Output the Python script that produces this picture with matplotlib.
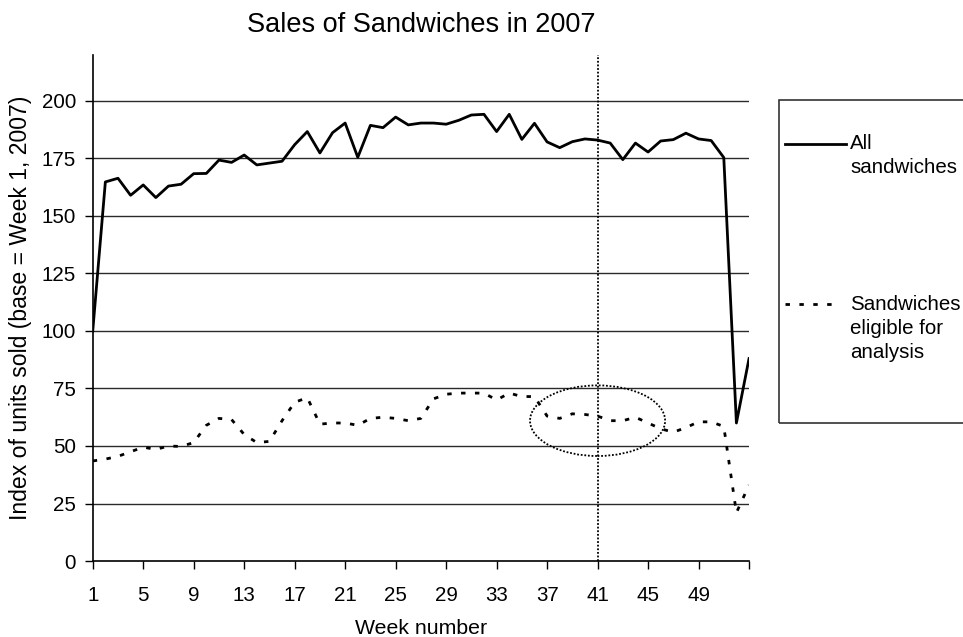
import matplotlib
matplotlib.use("Agg")
import matplotlib.pyplot as plt
from matplotlib.patches import Ellipse, Rectangle
from matplotlib.lines import Line2D

plt.rcParams['font.family'] = ['Liberation Sans', 'DejaVu Sans']

weeks = list(range(1, 54))
all_sandwiches = [
    100, 164.8, 166.4, 159, 163.5, 158, 163, 163.8, 168.4, 168.5,
    174.3, 173.3, 176.5, 172.2, 173, 173.8, 181, 186.7, 177.4, 186.2,
    190.4, 175.5, 189.4, 188.4, 193, 189.6, 190.4, 190.4, 189.9, 191.6,
    193.9, 194.2, 186.7, 194.2, 183.3, 190.3, 182.2, 179.7, 182.3, 183.5,
    183, 181.7, 174.5, 181.7, 177.8, 182.6, 183.2, 186, 183.5, 182.8,
    175.4, 60, 88,
]
eligible = [
    43.5, 44.3, 45.5, 47.5, 49.5, 48.5, 50, 49.8, 51.5, 59,
    62, 61.5, 55, 51.5, 52, 61, 69, 71, 59.5, 60,
    60, 59, 62, 62.5, 62, 61, 62, 70.5, 72.5, 73,
    73, 73, 70, 73, 71.5, 71.5, 63, 62, 64, 63.7,
    63, 61, 61, 62.5, 60, 57.5, 56, 58, 60.5, 60.5,
    58.5, 21, 33,
]
tick_weeks = list(range(1, 54, 4))
tick_labels = [str(w) if w < 53 else "" for w in tick_weeks]
y_ticks = [0, 25, 50, 75, 100, 125, 150, 175, 200]

cutoff_week = 41
# highlighted region around the cutoff week
ring_center = (41, 61)
ring_size = (10.7, 30.7)

fig = plt.figure(figsize=(9.63, 6.37), dpi=100)
ax = fig.add_axes([0.0963, 0.1193, 0.6815, 0.7944])

for y in y_ticks[1:]:
    ax.axhline(y, color='#2a2a2a', lw=1.0, zorder=1)

ax.plot(weeks, all_sandwiches, color='black', lw=2.0, zorder=3)
ax.plot(weeks, eligible, color='black', lw=2.0, dashes=(1.6, 3.4), zorder=3)

ax.axvline(cutoff_week, color='black', lw=1.3, ls=(0, (1, 1)), zorder=2)
ax.add_patch(Ellipse(ring_center, ring_size[0], ring_size[1], fill=False,
                     ec='black', lw=1.3, ls=(0, (1, 1)), zorder=2))

ax.set_xlim(1, 53)
ax.set_ylim(0, 220)
ax.set_xticks(tick_weeks)
ax.set_xticklabels(tick_labels)
ax.set_yticks(y_ticks)
ax.tick_params(axis='x', length=6, width=1.0, pad=12, labelsize=14.8)
ax.tick_params(axis='y', length=6, width=1.0, pad=6, labelsize=14.8)
for side in ('top', 'right'):
    ax.spines[side].set_visible(False)
for side in ('left', 'bottom'):
    ax.spines[side].set_linewidth(1.2)

ax.set_xlabel('Week number', fontsize=15.3, va='baseline')
ax.xaxis.set_label_coords(0.5, -0.144)
ax.set_ylabel('Index of units sold (base = Week 1, 2007)', fontsize=16.6)
ax.yaxis.set_label_coords(-0.0925, 0.5)
ax.set_title('Sales of Sandwiches in 2007', fontsize=19.5, pad=16.5)

# key box on the right
fig.add_artist(Rectangle((0.809, 0.3359), 0.25, 0.507, transform=fig.transFigure,
                         fill=False, ec='#333333', lw=1.2))
fig.add_artist(Line2D([0.815, 0.879], [0.7735, 0.7735], transform=fig.transFigure,
                      color='black', lw=2.0))
fig.add_artist(Line2D([0.815, 0.870], [0.5228, 0.5228], transform=fig.transFigure,
                      color='black', lw=2.0, dashes=(1.6, 3.4)))
fig.text(0.8827, 0.7896, 'All\nsandwiches', fontsize=14.8, va='top', ha='left',
         linespacing=1.33)
fig.text(0.8827, 0.5369, 'Sandwiches\neligible for\nanalysis', fontsize=14.8,
         va='top', ha='left', linespacing=1.35)

fig.savefig('out.png', dpi=100)
